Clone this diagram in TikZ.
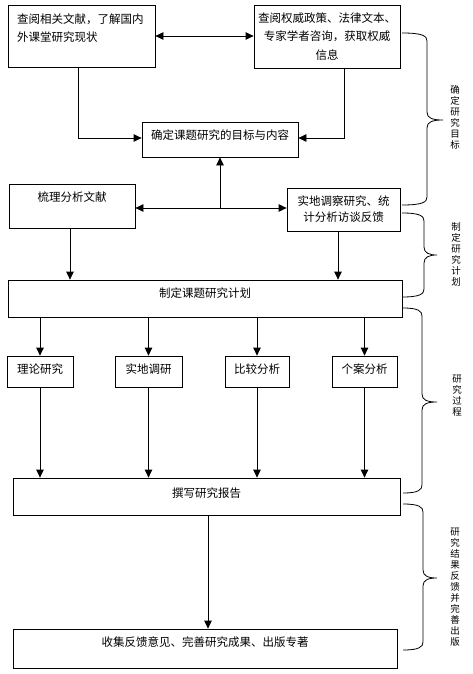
\documentclass[tikz,border=0pt]{standalone}
\usepackage{fontspec}
\newfontfamily\cjk{Noto Sans CJK SC}
\usetikzlibrary{arrows.meta}
\tikzset{
  stepbox/.style={draw,line width=0.8pt,inner sep=0pt,align=center},
  flowArrow/.style={-{Triangle[length=8pt,width=7.5pt]},line width=0.8pt},
  bothArrow/.style={{Triangle[length=8pt,width=7.5pt]}-{Triangle[length=8pt,width=7.5pt]},line width=0.8pt},
  sideLabel/.style={align=center,inner sep=0pt,font=\cjk\fontsize{9.5}{11}\selectfont}
}
% right-hand brace: start x, arm x, tip x, top y, tip y, bottom y
\newcommand{\sidebrace}[6]{%
  \draw[line width=0.8pt] (#1,#4) .. controls ({#2-4},#4) and (#2,{#4+3}) .. (#2,{#4+8})
    -- (#2,{#5-8}) .. controls (#2,{#5-2}) and ({#2+5},#5) .. (#3,#5)
    .. controls ({#2+5},#5) and (#2,{#5+2}) .. (#2,{#5+8})
    -- (#2,{#6-8}) .. controls (#2,{#6-3}) and ({#2-4},#6) .. (#1,#6);
}

\begin{document}
\begin{tikzpicture}[x=1pt,y=-1pt,font=\cjk\fontsize{11.5}{18}\selectfont]
  \useasboundingbox (0,0) rectangle (473,674);
  % stage 1
  \node[stepbox,minimum width=147pt,minimum height=62pt,text width=129pt,align=left,text depth=35.4pt] (lit) at (81.5,36)
    {查阅相关文献，了解国内\\外课堂研究现状};
  \node[stepbox,minimum width=146pt,minimum height=63pt,text width=140pt,font=\cjk\fontsize{11.5}{18.5}\selectfont] (policy) at (327,36.5)
    {查阅权威政策、法律文本、\\专家学者咨询，获取权威\\信息};
  \node[stepbox,minimum width=156pt,minimum height=35pt,text depth=10.4pt] (aim) at (220,139.5) {确定课题研究的目标与内容};
  \node[stepbox,minimum width=126pt,minimum height=44pt,text depth=19.4pt] (review) at (72,206) {梳理分析文献};
  \node[stepbox,minimum width=113pt,minimum height=43pt,text width=105pt,font=\cjk\fontsize{11.5}{16}\selectfont] (survey) at (343.5,209.5)
    {实地调察研究、统\\计分析访谈反馈};
  % stage 2 and 3
  \node[stepbox,minimum width=394pt,minimum height=37pt,text depth=12.4pt] (plan) at (205,298.5) {制定课题研究计划};
  \node[stepbox,minimum width=66pt,minimum height=31pt,text depth=6.4pt] (theory) at (40,371.5) {理论研究};
  \node[stepbox,minimum width=67pt,minimum height=31pt,text depth=6.4pt] (field) at (148.5,371.5) {实地调研};
  \node[stepbox,minimum width=64pt,minimum height=31pt,text depth=6.4pt] (compare) at (257,371.5) {比较分析};
  \node[stepbox,minimum width=65pt,minimum height=31pt,text depth=6.4pt] (case) at (364.5,371.5) {个案分析};
  \node[stepbox,minimum width=387pt,minimum height=37pt,text depth=8.4pt] (report) at (206.5,496.5) {撰写研究报告};
  % stage 4
  \node[stepbox,minimum width=384pt,minimum height=39pt,text depth=14.4pt] (publish) at (205,648.5)
    {收集反馈意见、完善研究成果、出版专著};

  \draw[bothArrow] (lit.east) -- (lit.east -| policy.west);
  \draw[flowArrow] ([xshift=-3.5pt]lit.south) |- ([yshift=1.5pt]aim.west);
  \draw[flowArrow] ([xshift=17pt]policy.south) |- ([yshift=1.5pt]aim.east);
  \draw[bothArrow] ([yshift=-2pt]review.east) -- ([yshift=-2pt]review.east -| survey.west);
  \draw[flowArrow] ([yshift=-2pt]aim.south |- review.east) -- (aim.south);
  \draw[flowArrow] ([xshift=-2pt]review.south) -- ([xshift=-2pt]review.south |- plan.north);
  \draw[flowArrow] ([xshift=-5.5pt]survey.south) -- ([xshift=-5.5pt]survey.south |- plan.north);
  \foreach \m in {theory,field,compare,case}
    \draw[flowArrow] (\m.north |- plan.south) -- (\m.north);
  \foreach \m in {theory,field,compare,case}
    \draw[flowArrow] (\m.south) -- (\m.south |- report.north);
  \draw[flowArrow] ([xshift=1.5pt]report.south) -- ([xshift=1.5pt]report.south |- publish.north);

  % braces and stage labels
  \sidebrace{402}{427}{443}{33}{120}{205}
  \sidebrace{402}{424}{437}{213}{255}{297}
  \sidebrace{403}{422}{437}{308}{402}{493}
  \sidebrace{403}{423}{437}{504}{578}{650}
  \node[sideLabel] (goalLbl) at (455,117) {确\\定\\研\\究\\目\\标};
  \node[sideLabel] (planLbl) at (456,254) {制\\定\\研\\究\\计\\划};
  \node[sideLabel] (processLbl) at (457,396) {研\\究\\过\\程};
  \node[sideLabel] (resultLbl) at (455,587) {研\\究\\结\\果\\反\\馈\\并\\完\\善\\出\\版};
\end{tikzpicture}
\end{document}
